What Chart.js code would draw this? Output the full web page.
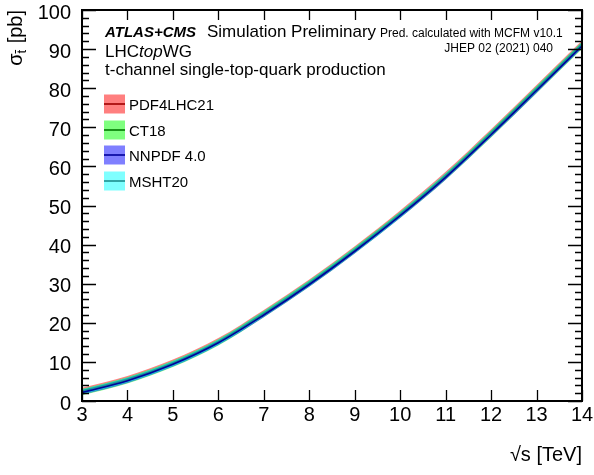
<!DOCTYPE html>
<html>
<head>
<meta charset="utf-8">
<script src="https://cdn.jsdelivr.net/npm/chart.js@4"></script>
<style>
  body { margin: 0; background: #fff; }
  #wrap { width: 594px; height: 475px; position: relative; }
</style>
</head>
<body>
<div id="wrap"><canvas id="myChart"></canvas></div>
<script>
// sqrt(s) in TeV
const energies = [3, 4, 5, 6, 7, 8, 9, 10, 11, 12, 13, 14];

// central predictions (pb) per PDF set
const pdf4lhc21 = [2.6, 5.6, 9.8, 15.3, 22.5, 30.3, 38.8, 47.9, 57.8, 68.7, 80.0, 91.4];
const ct18      = [2.3, 5.3, 9.5, 15.0, 22.2, 30.0, 38.5, 47.6, 57.4, 68.3, 79.6, 90.9];
const nnpdf40   = [2.2, 5.2, 9.4, 14.9, 22.0, 29.8, 38.3, 47.4, 57.2, 68.1, 79.4, 90.8];
const msht20    = [2.4, 5.4, 9.6, 15.1, 22.3, 30.1, 38.6, 47.7, 57.6, 68.5, 79.8, 91.2];

// half-width of the uncertainty band (pb)
const pdf4lhc21Err = [0.8, 0.8, 0.8, 0.8, 0.8, 0.8, 0.8, 0.8, 0.8, 0.8, 0.8, 0.8];
const ct18Err      = [0.8, 0.8, 0.8, 0.8, 0.8, 0.8, 0.8, 0.8, 0.8, 0.9, 0.9, 0.9];
const nnpdf40Err   = [0.6, 0.6, 0.6, 0.6, 0.6, 0.6, 0.6, 0.6, 0.6, 0.6, 0.6, 0.6];
const msht20Err    = [0.7, 0.7, 0.7, 0.7, 0.7, 0.7, 0.7, 0.7, 0.7, 0.7, 0.7, 0.7];

const xTicks = [3, 4, 5, 6, 7, 8, 9, 10, 11, 12, 13, 14];
const yTicks = [0, 10, 20, 30, 40, 50, 60, 70, 80, 90, 100];

// bandOrder / lineOrder: lower is drawn later (on top)
const pdfSets = [
    { name: "PDF4LHC21", vals: pdf4lhc21, err: pdf4lhc21Err, fill: "rgba(255,0,0,0.5)", line: "#a00000", bandOrder: 7, lineOrder: 6 },
    { name: "CT18", vals: ct18, err: ct18Err, fill: "rgba(0,255,0,0.5)", line: "#007a00", bandOrder: 5, lineOrder: 4 },
    { name: "NNPDF 4.0", vals: nnpdf40, err: nnpdf40Err, fill: "rgba(0,0,255,0.5)", line: "#00009c", bandOrder: 3, lineOrder: 0 },
    { name: "MSHT20", vals: msht20, err: msht20Err, fill: "rgba(0,255,255,0.5)", line: "#1f8f8f", bandOrder: 2, lineOrder: 1 },
];

const FONT = "'Liberation Sans', Arial, Helvetica, sans-serif";

let datasets = [];
pdfSets.forEach((p) => {
    datasets.push({
        data: energies.map((e, i) => ({ x: e, y: p.vals[i] + p.err[i] })),
        fill: "+1",
        backgroundColor: p.fill,
        borderColor: "rgba(0,0,0,0)",
        borderWidth: 0,
        pointRadius: 0,
        cubicInterpolationMode: "monotone",
        order: p.bandOrder,
    });
    datasets.push({
        data: energies.map((e, i) => ({ x: e, y: p.vals[i] - p.err[i] })),
        fill: false,
        borderColor: "rgba(0,0,0,0)",
        borderWidth: 0,
        pointRadius: 0,
        cubicInterpolationMode: "monotone",
        order: p.bandOrder,
    });
    datasets.push({
        data: energies.map((e, i) => ({ x: e, y: p.vals[i] })),
        fill: false,
        borderColor: p.line,
        borderWidth: 1.6,
        pointRadius: 0,
        cubicInterpolationMode: "monotone",
        order: p.lineOrder,
    });
});

// frame, inward ticks, texts and legend (ROOT style)
const decorations = {
    id: "decorations",
    afterDraw(chart) {
        const c = chart.ctx;
        const a = chart.chartArea;
        const xs = chart.scales.x;
        const ys = chart.scales.y;
        c.save();
        c.strokeStyle = "#000";

        // ticks
        c.lineWidth = 1.3;
        c.beginPath();
        for (let v = 0; v <= 100; v += 2) {
            const py = Math.round(ys.getPixelForValue(v)) + 0.5;
            const len = v % 10 === 0 ? 14 : 7;
            c.moveTo(a.left, py); c.lineTo(a.left + len, py);
            c.moveTo(a.right, py); c.lineTo(a.right - len, py);
        }
        xTicks.forEach((v) => {
            const px = Math.round(xs.getPixelForValue(v)) + 0.5;
            c.moveTo(px, a.bottom); c.lineTo(px, a.bottom - 11);
            c.moveTo(px, a.top); c.lineTo(px, a.top + 10);
        });
        c.stroke();

        // frame
        c.lineWidth = 2;
        c.strokeRect(a.left, a.top, a.right - a.left, a.bottom - a.top);

        // texts
        c.fillStyle = "#000";
        c.textBaseline = "alphabetic";
        c.textAlign = "left";
        c.font = "italic bold 15px " + FONT;
        c.fillText("ATLAS+CMS", 105, 37);
        c.font = "17px " + FONT;
        c.fillText("Simulation Preliminary", 207, 37);
        c.font = "12px " + FONT;
        c.fillText("Pred. calculated with MCFM v10.1", 380, 37);
        c.textAlign = "right";
        c.fillText("JHEP 02 (2021) 040", 553, 52);
        c.textAlign = "left";
        c.font = "17px " + FONT;
        let w = c.measureText("LHC").width;
        c.fillText("LHC", 105, 57);
        c.font = "italic 17px " + FONT;
        c.fillText("top", 105 + w, 57);
        w += c.measureText("top").width;
        c.font = "17px " + FONT;
        c.fillText("WG", 105 + w, 57);
        c.fillText("t-channel single-top-quark production", 105, 75);

        // legend
        const legY = [104, 130, 155, 181];
        pdfSets.forEach((p, i) => {
            c.fillStyle = p.fill;
            c.fillRect(104, legY[i] - 9.5, 21, 19);
            c.strokeStyle = p.line;
            c.lineWidth = 1.6;
            c.beginPath();
            c.moveTo(104, legY[i]); c.lineTo(125, legY[i]);
            c.stroke();
            c.fillStyle = "#000";
            c.font = "15px " + FONT;
            c.fillText(p.name, 129, legY[i] + 5.5);
        });

        // x axis title
        c.font = "20px " + FONT;
        c.textAlign = "right";
        c.fillText("\u221As [TeV]", a.right, 461);

        // y axis title (rotated)
        c.translate(22, 10);
        c.rotate(-Math.PI / 2);
        c.textAlign = "left";
        c.font = "20px " + FONT;
        const wPb = c.measureText(" [pb]").width;
        const wSig = c.measureText("\u03C3").width;
        c.font = "13px " + FONT;
        const wT = c.measureText("t").width;
        let x0 = -(wPb + wSig + wT + 1);
        c.font = "20px " + FONT;
        c.fillText("\u03C3", x0, 0);
        c.font = "13px " + FONT;
        c.fillText("t", x0 + wSig, 4);
        c.lineWidth = 1;
        c.strokeStyle = "#000";
        c.beginPath();
        c.moveTo(x0 + wSig, -6.5); c.lineTo(x0 + wSig + wT, -6.5);
        c.stroke();
        c.font = "20px " + FONT;
        c.fillText(" [pb]", x0 + wSig + wT + 1, 0);
        c.restore();
    },
};

new Chart(document.getElementById("myChart"), {
    type: "line",
    data: { datasets: datasets },
    options: {
        responsive: true,
        maintainAspectRatio: false,
        animation: false,
        layout: { padding: { top: 10, right: 12, left: 0, bottom: 0 } },
        plugins: { legend: { display: false }, tooltip: { enabled: false } },
        scales: {
            x: {
                type: "linear",
                min: 3,
                max: 14,
                afterBuildTicks: (s) => { s.ticks = xTicks.map((v) => ({ value: v })); },
                afterFit: (s) => { s.height = 74; s.paddingLeft = 0; s.paddingRight = 0; },
                grid: { display: false },
                border: { display: false },
                ticks: { autoSkip: false, maxRotation: 0, padding: -6, color: "#000", font: { family: FONT, size: 20 } },
            },
            y: {
                type: "linear",
                min: 0,
                max: 100,
                afterBuildTicks: (s) => { s.ticks = yTicks.map((v) => ({ value: v })); },
                afterFit: (s) => { s.width = 82; s.paddingTop = 0; s.paddingBottom = 0; },
                grid: { display: false },
                border: { display: false },
                ticks: { autoSkip: false, padding: 3, labelOffset: 3, color: "#000", font: { family: FONT, size: 20 } },
            },
        },
    },
    plugins: [decorations],
});
</script>
</body>
</html>
